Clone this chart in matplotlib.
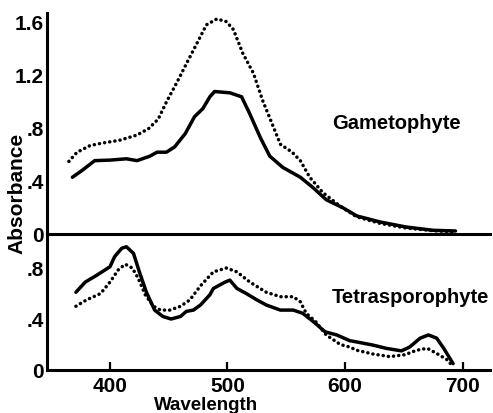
import matplotlib
matplotlib.use("Agg")
import matplotlib.pyplot as plt

# ---- data ----
gam_solid_wl = [368, 376, 387, 400, 414, 423, 434, 440, 448, 455, 464, 472, 479, 485, 489,
                502, 512, 519, 528, 536, 547, 562, 573, 584, 599, 610, 630, 652, 675, 694]
gam_solid_abs = [0.43, 0.48, 0.556, 0.56, 0.57, 0.556, 0.59, 0.62, 0.62, 0.66, 0.76, 0.89, 0.95, 1.04, 1.08,
                 1.07, 1.04, 0.91, 0.73, 0.59, 0.505, 0.43, 0.35, 0.26, 0.195, 0.137, 0.091, 0.053, 0.028, 0.023]

gam_dot_wl = [365, 372, 383, 394, 408, 423, 433, 441, 448, 457, 465, 474, 482, 491, 499, 505,
              513, 522, 530, 538, 545, 555, 562, 570, 581, 596, 610, 630, 652, 675, 694]
gam_dot_abs = [0.55, 0.62, 0.67, 0.69, 0.71, 0.75, 0.80, 0.87, 1.00, 1.15, 1.29, 1.445, 1.585, 1.63, 1.61, 1.55,
               1.37, 1.22, 1.01, 0.835, 0.68, 0.62, 0.556, 0.43, 0.315, 0.21, 0.13, 0.08, 0.045, 0.025, 0.015]

tet_solid_wl = [371, 379, 389, 400, 404, 410, 414, 420, 425, 431, 438, 445, 452, 460, 465, 471, 477, 485,
                488, 498, 502, 508, 516, 525, 533, 545, 556, 564, 573, 583, 593, 604, 610, 624, 635, 648,
                655, 664, 671, 678, 684, 692]
tet_solid_abs = [0.61, 0.69, 0.745, 0.81, 0.89, 0.955, 0.967, 0.915, 0.77, 0.61, 0.47, 0.42, 0.40, 0.42, 0.46,
                 0.47, 0.51, 0.59, 0.64, 0.69, 0.705, 0.64, 0.60, 0.55, 0.51, 0.47, 0.47, 0.445, 0.38, 0.30,
                 0.275, 0.23, 0.22, 0.195, 0.17, 0.15, 0.18, 0.25, 0.275, 0.25, 0.17, 0.05]

tet_dot_wl = [371, 380, 392, 400, 407, 413, 419, 424, 430, 437, 443, 451, 460, 468, 477, 488, 499, 508, 519,
              533, 545, 556, 562, 567, 575, 584, 596, 604, 610, 624, 638, 651, 661, 670, 678, 687, 692]
tet_dot_abs = [0.50, 0.55, 0.60, 0.69, 0.785, 0.83, 0.80, 0.72, 0.59, 0.50, 0.47, 0.47, 0.50, 0.55, 0.66,
               0.77, 0.80, 0.77, 0.69, 0.61, 0.575, 0.575, 0.535, 0.445, 0.38, 0.275, 0.20, 0.18, 0.155,
               0.125, 0.105, 0.12, 0.155, 0.17, 0.13, 0.08, 0.026]

x_ticks = [400, 500, 600, 700]
x_ticklabels = ["400", "500", "600", "700"]
top_yticks = [0, 0.4, 0.8, 1.2, 1.6]
top_yticklabels = ["0", ".4", ".8", "1.2", "1.6"]
bot_yticks = [0, 0.4, 0.8]
bot_yticklabels = ["0", ".4", ".8"]

# ---- style ----
plt.rcParams['font.family'] = ['Liberation Sans', 'DejaVu Sans']
plt.rcParams['font.weight'] = 'bold'

W, H = 493, 413
fig = plt.figure(figsize=(W / 100, H / 100), dpi=100)

left = 47 / W
right = 490 / W
mid = (H - 234) / H
bot = (H - 370) / H
top = (H - 13) / H

ax_top = fig.add_axes([left, mid, right - left, top - mid])
ax_bot = fig.add_axes([left, bot, right - left, mid - bot])

xlim = (346.4, 723.4)
solid_kw = dict(color='black', lw=2.5, solid_capstyle='round', solid_joinstyle='round')
dot_kw = dict(color='black', lw=2.5, linestyle=(0, (0.05, 1.45)), dash_capstyle='round')

ax_top.plot(gam_solid_wl, gam_solid_abs, **solid_kw)
ax_top.plot(gam_dot_wl, gam_dot_abs, **dot_kw)
ax_bot.plot(tet_solid_wl, tet_solid_abs, **solid_kw)
ax_bot.plot(tet_dot_wl, tet_dot_abs, **dot_kw)

ax_top.set_xlim(*xlim)
ax_bot.set_xlim(*xlim)
ax_top.set_ylim(0, 1.675)
ax_bot.set_ylim(0, 1.067)

for ax in (ax_top, ax_bot):
    ax.spines['right'].set_visible(False)
    ax.spines['left'].set_linewidth(2.2)
    ax.patch.set_alpha(0)
ax_top.spines['top'].set_visible(False)
ax_top.spines['bottom'].set_visible(False)
ax_bot.spines['top'].set_linewidth(2.2)
ax_bot.spines['bottom'].set_linewidth(2.2)

ax_top.set_xticks([])
ax_top.set_yticks(top_yticks)
ax_top.set_yticklabels(top_yticklabels)
ax_bot.set_yticks(bot_yticks)
ax_bot.set_yticklabels(bot_yticklabels)
ax_bot.set_xticks(x_ticks)
ax_bot.set_xticklabels(x_ticklabels)

for ax in (ax_top, ax_bot):
    ax.tick_params(axis='y', length=0, pad=2.5, labelsize=15)
    for lab in ax.get_yticklabels():
        lab.set_fontweight('bold')
ax_bot.tick_params(axis='x', direction='in', length=6, width=1.6, pad=5, labelsize=15)
for lab in ax_bot.get_xticklabels():
    lab.set_fontweight('bold')

fig.text(332 / W, 1 - 129 / H, "Gametophyte", fontsize=14.5, fontweight='bold',
         ha='left', va='baseline')
fig.text(332 / W, 1 - 303 / H, "Tetrasporophyte", fontsize=14.5, fontweight='bold',
         ha='left', va='baseline')
fig.text(17 / W, 1 - 193 / H, "Absorbance", fontsize=15, fontweight='bold',
         rotation=90, ha='center', va='center')
fig.text(206 / W, 1 - 397 / H, "Wavelength", fontsize=13.5, fontweight='bold',
         ha='center', va='top')

fig.savefig("out.png", dpi=100)
